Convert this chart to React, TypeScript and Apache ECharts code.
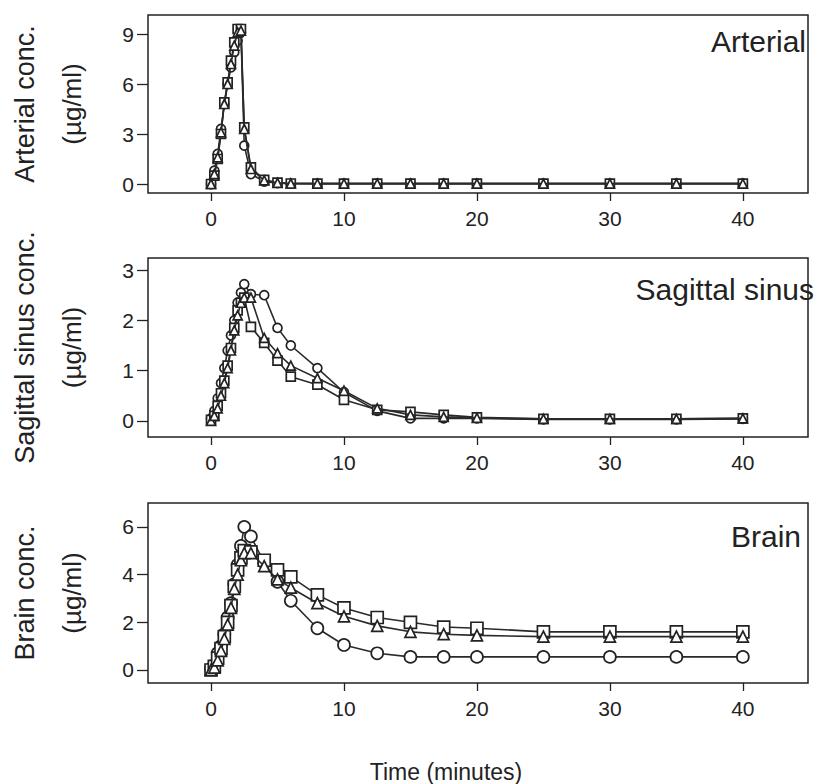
import React, { useEffect, useRef } from "react";
import * as echarts from "echarts";

const times = [0, 0.25, 0.5, 0.75, 1, 1.25, 1.5, 1.75, 2, 2.25, 2.5, 3, 4, 5, 6, 8, 10, 12.5, 15, 17.5, 20, 25, 30, 35, 40];

const arterialCircle = [0.0, 0.8, 1.8, 3.3, 4.8, 6.0, 7.0, 7.9, 8.6, 9.1, 2.3, 0.6, 0.15, 0.05, 0.02, 0.02, 0.02, 0.02, 0.02, 0.02, 0.02, 0.02, 0.02, 0.02, 0.02];
const arterialSquare = [0.0, 0.5, 1.5, 3.0, 4.9, 6.1, 7.4, 8.5, 9.3, 9.3, 3.4, 1.0, 0.25, 0.08, 0.03, 0.02, 0.02, 0.02, 0.02, 0.02, 0.02, 0.02, 0.02, 0.02, 0.02];
const arterialTriangle = [0.0, 0.6, 1.6, 3.1, 4.8, 6.0, 7.2, 8.3, 9.1, 9.2, 3.3, 0.9, 0.22, 0.07, 0.03, 0.02, 0.02, 0.02, 0.02, 0.02, 0.02, 0.02, 0.02, 0.02, 0.02];

const sagittalCircle = [0.05, 0.2, 0.45, 0.75, 1.05, 1.4, 1.7, 2.0, 2.35, 2.55, 2.72, 2.52, 2.5, 1.85, 1.5, 1.05, 0.57, 0.2, 0.05, 0.05, 0.05, 0.03, 0.03, 0.03, 0.04];
const sagittalSquare = [0.02, 0.1, 0.3, 0.55, 0.8, 1.1, 1.45, 1.85, 2.2, 2.35, 2.45, 1.87, 1.55, 1.2, 0.88, 0.72, 0.42, 0.22, 0.18, 0.12, 0.07, 0.04, 0.04, 0.04, 0.05];
const sagittalTriangle = [0.0, 0.1, 0.25, 0.5, 0.75, 1.05, 1.4, 1.8, 2.1, 2.35, 2.45, 2.45, 1.65, 1.35, 1.1, 0.85, 0.6, 0.25, 0.12, 0.08, 0.06, 0.04, 0.04, 0.04, 0.05];

const brainCircle = [0.05, 0.2, 0.7, 1.0, 1.5, 2.2, 2.8, 3.6, 4.4, 5.2, 6.0, 5.6, 4.5, 3.7, 2.9, 1.75, 1.05, 0.7, 0.55, 0.55, 0.55, 0.55, 0.55, 0.55, 0.55];
const brainSquare = [0.0, 0.15, 0.5, 0.9, 1.4, 2.0, 2.7, 3.5, 4.2, 4.7, 5.0, 4.95, 4.6, 4.2, 3.9, 3.15, 2.6, 2.2, 2.0, 1.8, 1.75, 1.6, 1.6, 1.6, 1.6];
const brainTriangle = [0.0, 0.1, 0.4, 0.8, 1.3, 1.9, 2.6, 3.4, 4.0, 4.6, 4.9, 4.9, 4.35, 3.8, 3.45, 2.8, 2.25, 1.85, 1.6, 1.5, 1.45, 1.4, 1.4, 1.4, 1.4];

const xTickValues = [0, 10, 20, 30, 40];
const arterialTicks = [0, 3, 6, 9];
const sagittalTicks = [0, 1, 2, 3];
const brainTicks = [0, 2, 4, 6];

const panelLabels = ["Arterial", "Sagittal sinus", "Brain"];
const yTitles = ["Arterial conc.", "Sagittal sinus conc.", "Brain conc."];
const unitLabel = "(µg/ml)";
const xTitle = "Time (minutes)";

const FONT = "'Liberation Sans', Arial, Helvetica, sans-serif";
const INK = "#222";

export default function App() {
  const ref = useRef<HTMLDivElement>(null);
  useEffect(() => {
    document.body.style.margin = "0";
    const chart = echarts.init(ref.current!, null, { renderer: "svg" });

    const grids = [
      { left: 148, top: 15, width: 660, height: 178 },
      { left: 148, top: 258, width: 660, height: 179 },
      { left: 148, top: 503, width: 660, height: 180 },
    ];
    const yRanges = [
      [-0.54, 10.14],
      [-0.32, 3.24],
      [-0.545, 7.0],
    ];
    const yTicks = [arterialTicks, sagittalTicks, brainTicks];
    const panelData = [
      [arterialCircle, arterialSquare, arterialTriangle],
      [sagittalCircle, sagittalSquare, sagittalTriangle],
      [brainCircle, brainSquare, brainTriangle],
    ];
    const symbols = ["circle", "rect", "triangle"];
    const symSizes = [
      [9, 9, 9],
      [9, 9, 9],
      [12, 12, 11],
    ];

    const series: any[] = [];
    panelData.forEach((group, gi) => {
      group.forEach((vals, si) => {
        series.push({
          type: "line",
          xAxisIndex: gi,
          yAxisIndex: gi,
          data: times.map((t, i) => [t, vals[i]]),
          symbol: symbols[si],
          symbolSize: symSizes[gi][si],
          showAllSymbol: true,
          lineStyle: { color: "#2a2a2a", width: 1.6 },
          itemStyle: { color: "#fff", borderColor: INK, borderWidth: 1.7 },
          z: 2 + si,
        });
      });
    });

    const graphics: any[] = [];
    grids.forEach((g, i) => {
      const cy = g.top + g.height / 2;
      graphics.push({
        type: "text",
        x: 25,
        y: cy,
        rotation: Math.PI / 2,
        style: { text: yTitles[i], font: `27px ${FONT}`, fill: INK, align: "center", verticalAlign: "middle" },
      });
      graphics.push({
        type: "text",
        x: 72,
        y: cy,
        rotation: Math.PI / 2,
        style: { text: unitLabel, font: `26px ${FONT}`, fill: INK, align: "center", verticalAlign: "middle" },
      });
    });
    const labelPos = [
      [806, 41],
      [814, 289],
      [801, 536],
    ];
    panelLabels.forEach((txt, i) => {
      graphics.push({
        type: "text",
        x: labelPos[i][0],
        y: labelPos[i][1],
        style: { text: txt, font: `30px ${FONT}`, fill: INK, align: "right", verticalAlign: "middle" },
      });
    });
    graphics.push({
      type: "text",
      x: 446,
      y: 772,
      style: { text: xTitle, font: `23px ${FONT}`, fill: INK, align: "center", verticalAlign: "middle" },
    });

    chart.setOption({
      animation: false,
      backgroundColor: "#fff",
      grid: grids.map((g) => ({ ...g, show: true, borderColor: INK, borderWidth: 1.5, backgroundColor: "transparent" })),
      xAxis: grids.map((_, i) => ({
        type: "value",
        gridIndex: i,
        min: -4.74,
        max: 44.9,
        position: "bottom",
        axisLine: { show: false, onZero: false },
        splitLine: { show: false },
        axisTick: { show: true, inside: false, length: 8, customValues: xTickValues, lineStyle: { color: INK, width: 1.3 } },
        axisLabel: { show: true, customValues: xTickValues, margin: 15, fontSize: 21, fontFamily: FONT, color: INK },
      })),
      yAxis: grids.map((_, i) => ({
        type: "value",
        gridIndex: i,
        min: yRanges[i][0],
        max: yRanges[i][1],
        position: "left",
        axisLine: { show: false, onZero: false },
        splitLine: { show: false },
        axisTick: { show: true, inside: false, length: 11, customValues: yTicks[i], lineStyle: { color: INK, width: 1.3 } },
        axisLabel: { show: true, customValues: yTicks[i], margin: 14, fontSize: 21, fontFamily: FONT, color: INK },
      })),
      series,
      graphic: graphics,
    });

    return () => chart.dispose();
  }, []);
  return <div ref={ref} style={{ width: 814, height: 784 }} />;
}
